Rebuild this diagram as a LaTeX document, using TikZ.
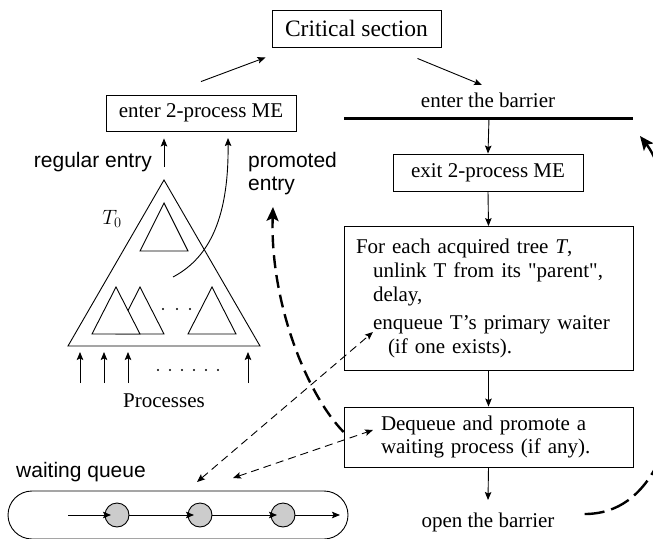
\documentclass[tikz,border=0pt]{standalone}
\usepackage{fontspec}
\setmainfont{Liberation Serif}
\setsansfont{Liberation Sans}
% same face without TeX ligatures, for straight double quotes
\newfontfamily\plainserif{Liberation Serif}
\usetikzlibrary{arrows.meta}

\begin{document}
\begin{tikzpicture}[x=1pt,y=-1pt,
  every node/.style={font=\fontsize{21}{24}\selectfont},
  box/.style={draw, line width=0.9pt, inner sep=0pt},
  lbl/.style={inner sep=0pt},
  slbl/.style={inner sep=0pt, font=\sffamily\fontsize{21}{23}\selectfont},
  tri/.style={line width=0.9pt, line join=miter},
  arr/.style={-{Stealth[length=8pt,width=6.5pt,inset=1.5pt]}, line width=0.9pt},
  darr/.style={{Stealth[length=8pt,width=6.5pt,inset=1.5pt]}-{Stealth[length=8pt,width=6.5pt,inset=1.5pt]},
               line width=0.9pt, dash pattern=on 8pt off 5pt},
  bigarr/.style={-{Stealth[length=14pt,width=12pt,inset=3pt]}, line width=2.4pt},
  qnode/.style={draw, circle, minimum size=24pt, inner sep=0pt, fill=gray!40, line width=0.9pt},
  dotc/.style={fill=black}
]
\useasboundingbox (0,0) rectangle (653,538);
\clip (0,0) rectangle (653,538);

% ---------- flow on the right ----------
\node[box, minimum width=169pt, minimum height=37pt, font=\fontsize{23.5}{28}\selectfont]
  (crit) at (356.5,28.5) {Critical section};
\node[box, minimum width=190pt, minimum height=36pt] (enter) at (201,113) {enter 2-process ME};
\node[lbl, anchor=base] (barlab) at (488,107) {enter the barrier};
\coordinate (barL) at (344,118);
\coordinate (barR) at (633,118);
\coordinate (barC) at (489,118);
\draw[line width=3pt] (barL) -- (barR);
\node[box, minimum width=190pt, minimum height=37pt] (exit) at (488,172.5) {exit 2-process ME};
\node[box, minimum width=289pt, minimum height=144pt, text width=265pt, align=left,
      inner xsep=12pt] (fe) at (488.5,298.5)
  {For each acquired tree \textit{T},\\
   \hspace*{17pt}unlink T from its {\plainserif"}parent{\plainserif"},\\
   \hspace*{17pt}delay,\\[4pt]
   \hspace*{17pt}enqueue T’s primary waiter\\
   \hspace*{32pt}(if one exists).};
\node[box, minimum width=289pt, minimum height=60pt, text width=215pt, align=left,
      inner xsep=37pt, font=\fontsize{21}{23}\selectfont] (deq) at (488.5,437)
  {Dequeue and promote a\\waiting process (if any).};
\node[lbl, anchor=base] (open) at (488,527) {open the barrier};

\draw[arr] ([yshift=13pt]enter.north) -- ([shift={(-6pt,-10pt)}]crit.south west);
\draw[arr] ([shift={(-24pt,-11pt)}]crit.south east) -- ([shift={(-6pt,22pt)}]barlab.base);
\draw[arr] (barC) -- (exit.north);
\draw[arr] (exit.south) -- (fe.north);
\draw[arr] (fe.south) -- (deq.north);
\draw[arr] (deq.south) -- ([yshift=27pt]open.base);

% ---------- the tree T0 ----------
\coordinate (apex) at (164,180);
\coordinate (bl) at (68,346);
\coordinate (br) at (260,346);
\draw[tri] (apex) -- (bl) -- (br) -- cycle;
\draw[tri] (164,203) -- (140,251) -- (188,251) -- cycle;
\draw[tri] (140,287) -- (116,334) -- (164,334) -- cycle;
\draw[tri, fill=white] (116,287) -- (92,334) -- (140,334) -- cycle;
\draw[tri] (212,287) -- (188,334) -- (236,334) -- cycle;
\foreach \x in {163,177,190} \fill[dotc] (\x,309) circle (1.2pt);
\node[lbl] (t0) at (112,219) {$T_0$};

% processes arriving at the leaves
\foreach \x [count=\i] in {80,104,128,248} {
  \coordinate (pin\i) at (\x,383);
  \coordinate (pout\i) at (\x,352);
  \draw[arr] (pin\i) -- (pout\i);
}
\foreach \x in {158,170,182,194,206,218} \fill[dotc] (\x,370) circle (1.2pt);
\node[lbl, anchor=base] (proc) at (164,407) {Processes};

% entries into the 2-process ME
\node[slbl, anchor=base east] (reg) at (152,167) {regular entry};
\node[slbl, anchor=north west, align=left] (prom) at (248,152) {promoted\\entry};
\draw[arr] ([yshift=13pt]apex) -- ([yshift=-7pt]apex |- enter.south);
\coordinate (pstart) at (173,277);
\coordinate (promoIn) at (228,138);
\draw[arr] (pstart) .. controls (205,260) and (229,225) .. (promoIn);

% ---------- waiting queue ----------
\node[slbl, anchor=base west] (wq) at (16,477) {waiting queue};
\node[draw, line width=0.9pt, minimum width=340pt, minimum height=48pt, rounded corners=24pt,
      inner sep=0pt] (queue) at (178,515) {};
\node[qnode] (c1) at (117,515) {};
\node[qnode] (c2) at (200,515) {};
\node[qnode] (c3) at (283,515) {};
\coordinate (qin) at (68,515);
\coordinate (qout) at (340,515);
\draw[arr] (qin) -- ([xshift=-6pt]c1.center);
\draw[arr] (c1.east) -- ([xshift=-6pt]c2.center);
\draw[arr] (c2.east) -- ([xshift=-6pt]c3.center);
\draw[arr] (c3.east) -- (qout);

% ---------- enqueue / dequeue links ----------
\coordinate (qa) at (197,482);
\coordinate (fa) at (373,332);
\coordinate (qb) at (233,478);
\coordinate (da) at (373,430);
\draw[darr] (qa) -- (fa);
\draw[darr] (qb) -- (da);

% promotion of a dequeued process
\coordinate (promoTip) at (273,207);
\draw[bigarr, dash pattern=on 13pt off 7pt]
  ([yshift=5pt]deq.west) .. controls (305,392) and (270,300) .. (promoTip);

% reopening the barrier
\draw[bigarr, dash pattern=on 20pt off 7pt]
  ([shift={(30pt,13pt)}]open.base east) .. controls (720,514) and (690,200) ..
  ([shift={(7pt,-18pt)}]barR);
\end{tikzpicture}
\end{document}
